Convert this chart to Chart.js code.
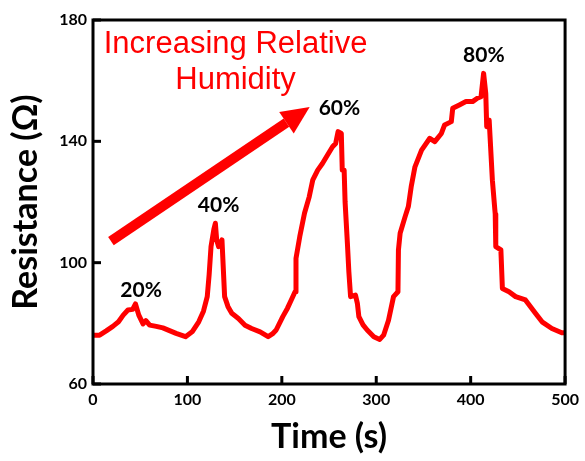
<!DOCTYPE html>
<html>
<head>
<meta charset="utf-8">
<script src="https://cdn.jsdelivr.net/npm/chart.js@4.4.1/dist/chart.umd.min.js"></script>
<style>
  html, body { margin: 0; padding: 0; background: #fff; }
  #wrap { width: 585px; height: 461px; }
</style>
</head>
<body>
<div id="wrap"><canvas id="chart"></canvas></div>
<script>
// time (s)
const times = [0, 7, 14, 21, 27, 32, 37, 42, 45, 48.5, 53, 56, 60, 67, 74, 81, 88, 98, 105, 112,
  117, 121, 123, 125, 128, 129.6, 131, 133, 136.6, 139.4, 143, 147, 154, 161, 168, 177, 185.5, 190, 194, 201,
  206, 210, 214, 215, 219, 224, 229, 232.7, 238, 243, 248.4, 253.7, 257, 259.6, 263, 264, 266, 267, 269.5, 271,
  272.8, 278, 280, 281.6, 286, 290.4, 297.4, 303.7, 307.8, 313, 318.3, 323, 323.5, 325.3, 330.5, 334, 337, 341, 348, 356.7,
  362, 369, 372.4, 379.5, 381, 388, 395, 402, 407, 411, 413.7, 416, 417, 419.6, 423, 426, 426.6, 432, 433.6, 440.6,
  447.6, 458, 468.6, 475.6, 486, 496.5, 499];
// resistance (ohm)
const resistance = [76.1, 76.1, 77.5, 79, 80.5, 82.7, 84.4, 84.6, 86.4, 82.7, 79.8, 80.9, 79.4, 79, 78.5, 77.6, 76.7, 75.6, 77.2, 80.5,
  84, 88.8, 96, 105.3, 111, 113, 107.5, 105.3, 107.5, 88.8, 85.5, 83.3, 81.6, 79.4, 78.3, 77.2, 75.6, 76.5, 77.8, 82.2,
  85, 87.7, 90.4, 101.4, 108.6, 116.3, 121.7, 127.2, 130.5, 132.7, 135.5, 138.2, 139.3, 143.2, 142.6, 130.5, 130.5, 120, 106, 97,
  88.8, 89.3, 86.6, 82.2, 79.5, 77.8, 75.6, 74.7, 76.1, 81, 88.8, 90.4, 104.2, 109.7, 115.1, 118.5, 125, 131.6, 137.1, 141,
  139.9, 142.6, 145.4, 146.5, 150.9, 152, 153.1, 153.1, 154.2, 154.7, 162.4, 155.8, 144.8, 147, 127.2, 116, 105.3, 104.2, 91.5, 90.4,
  88.8, 87.7, 83.3, 80.5, 78.3, 76.9, 76.9];

const xTicks = [0, 100, 200, 300, 400, 500];
const yTicks = [60, 100, 140, 180];

// humidity labels: text, time, resistance (data coords)
const peakLabels = ['20%', '40%', '60%', '80%'];
const peakLabelX = [51, 133, 261, 414];
const peakLabelY = [91, 119, 151, 168.5];

const noteLines = ['Increasing Relative', 'Humidity'];
const noteX = 151;
const noteY = [171.8, 160.2];
const arrowFrom = [19, 107.1];
const arrowTo = [229.5, 151.3];

const RED = 'rgb(255,0,0)';
const tickFont = { family: 'Lato', size: 16, weight: 'bold' };

const points = times.map((t, i) => ({ x: t, y: resistance[i] }));

// frame + inward ticks + annotations
const decorPlugin = {
    id: 'decor',
    afterDatasetsDraw(chart) {
        const ctx = chart.ctx;
        const a = chart.chartArea;
        const xs = chart.scales.x;
        const ys = chart.scales.y;
        ctx.save();

        // box
        ctx.strokeStyle = '#000';
        ctx.lineWidth = 3;
        ctx.strokeRect(a.left, a.top, a.right - a.left, a.bottom - a.top);

        // inward ticks
        xTicks.forEach(v => {
            const px = xs.getPixelForValue(v);
            ctx.beginPath();
            ctx.moveTo(px, a.bottom);
            ctx.lineTo(px, a.bottom - 8);
            ctx.stroke();
        });
        yTicks.forEach(v => {
            const py = ys.getPixelForValue(v);
            ctx.beginPath();
            ctx.moveTo(a.left, py);
            ctx.lineTo(a.left + 8, py);
            ctx.stroke();
        });

        // peak labels
        ctx.fillStyle = '#000';
        ctx.font = 'bold 21px Lato';
        ctx.textAlign = 'center';
        ctx.textBaseline = 'middle';
        peakLabels.forEach((txt, i) => {
            ctx.fillText(txt, xs.getPixelForValue(peakLabelX[i]), ys.getPixelForValue(peakLabelY[i]));
        });

        // note text
        ctx.fillStyle = RED;
        ctx.font = '31px "Liberation Sans"';
        noteLines.forEach((txt, i) => {
            ctx.fillText(txt, xs.getPixelForValue(noteX), ys.getPixelForValue(noteY[i]));
        });

        // arrow
        const x1 = xs.getPixelForValue(arrowFrom[0]);
        const y1 = ys.getPixelForValue(arrowFrom[1]);
        const x2 = xs.getPixelForValue(arrowTo[0]);
        const y2 = ys.getPixelForValue(arrowTo[1]);
        const ang = Math.atan2(y2 - y1, x2 - x1);
        const headLen = 28, headW = 13;
        const bx = x2 - headLen * Math.cos(ang);
        const by = y2 - headLen * Math.sin(ang);
        ctx.strokeStyle = RED;
        ctx.lineWidth = 10;
        ctx.beginPath();
        ctx.moveTo(x1, y1);
        ctx.lineTo(bx, by);
        ctx.stroke();
        ctx.beginPath();
        ctx.moveTo(x2, y2);
        ctx.lineTo(bx + headW * Math.sin(ang), by - headW * Math.cos(ang));
        ctx.lineTo(bx - headW * Math.sin(ang), by + headW * Math.cos(ang));
        ctx.closePath();
        ctx.fill();

        ctx.restore();
    }
};

new Chart(document.getElementById('chart'), {
    type: 'scatter',
    data: {
        datasets: [{
            data: points,
            showLine: true,
            borderColor: RED,
            borderWidth: 5,
            pointRadius: 0,
            tension: 0,
            borderJoinStyle: 'round',
            borderCapStyle: 'round'
        }]
    },
    options: {
        responsive: true,
        maintainAspectRatio: false,
        animation: false,
        layout: { padding: { left: 0, right: 15, top: 20, bottom: 0 } },
        plugins: { legend: { display: false }, tooltip: { enabled: false } },
        scales: {
            x: {
                type: 'linear',
                min: 0,
                max: 500,
                afterBuildTicks: s => { s.ticks = xTicks.map(v => ({ value: v })); },
                afterFit: s => { s.height = 77; },
                grid: { display: false, drawTicks: false },
                border: { display: false },
                ticks: { color: '#000', font: tickFont, padding: 6 },
                title: {
                    display: true,
                    text: 'Time (s)',
                    color: '#000',
                    font: { family: 'Lato', size: 34, weight: 'bold' },
                    padding: { top: 10 }
                }
            },
            y: {
                min: 60,
                max: 180,
                afterBuildTicks: s => { s.ticks = yTicks.map(v => ({ value: v })); },
                afterFit: s => { s.width = 93; },
                grid: { display: false, drawTicks: false },
                border: { display: false },
                ticks: { color: '#000', font: tickFont, padding: 6 },
                title: {
                    display: true,
                    text: 'Resistance (Ω)',
                    color: '#000',
                    font: { family: 'Lato', size: 34, weight: 'bold' },
                    padding: { bottom: 0, top: 6 }
                }
            }
        }
    },
    plugins: [decorPlugin]
});
</script>
</body>
</html>
